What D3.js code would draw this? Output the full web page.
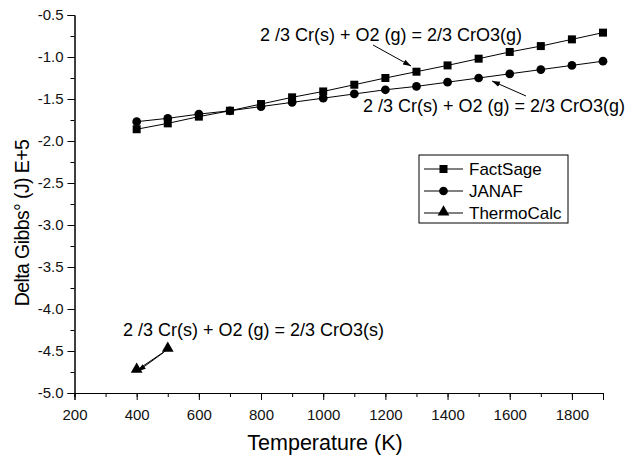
<!doctype html>
<html>
<head>
<meta charset="utf-8">
<script src="https://d3js.org/d3.v7.min.js"></script>
<style>
  body { margin: 0; background: #fff; }
  text { font-family: "Liberation Sans", Arial, sans-serif; }
</style>
</head>
<body>
<div id="chart"></div>
<script>
// data (values in units of 1E+5 J)
var temps = [400, 500, 600, 700, 800, 900, 1000, 1100, 1200, 1300, 1400, 1500, 1600, 1700, 1800, 1900];
var factSage = [-1.86, -1.79, -1.71, -1.64, -1.56, -1.48, -1.41, -1.33, -1.25, -1.175, -1.10, -1.02, -0.94, -0.87, -0.79, -0.71];
var janaf = [-1.77, -1.73, -1.68, -1.64, -1.59, -1.54, -1.49, -1.44, -1.39, -1.35, -1.30, -1.25, -1.20, -1.15, -1.10, -1.05];
var thermoTemps = [400, 500];
var thermoCalc = [-4.73, -4.48];
var xTicks = [200, 400, 600, 800, 1000, 1200, 1400, 1600, 1800];
var yTicks = [-5.0, -4.5, -4.0, -3.5, -3.0, -2.5, -2.0, -1.5, -1.0, -0.5];
var legendNames = ["FactSage", "JANAF", "ThermoCalc"];
var reactionGas = "2 /3 Cr(s) + O2 (g) = 2/3 CrO3(g)";
var reactionSolid = "2 /3 Cr(s) + O2 (g) = 2/3 CrO3(s)";

var width = 636, height = 457;
var svg = d3.select("#chart").append("svg")
  .attr("width", width).attr("height", height);

var x = d3.scaleLinear().domain([200, 1900]).range([74.5, 603]);
var y = d3.scaleLinear().domain([-5.0, -0.5]).range([393, 15]);

svg.append("defs").append("marker")
  .attr("id", "arrow")
  .attr("viewBox", "0 0 10 10")
  .attr("refX", 10).attr("refY", 5)
  .attr("markerWidth", 8).attr("markerHeight", 8)
  .attr("markerUnits", "userSpaceOnUse")
  .attr("orient", "auto")
  .append("path").attr("d", "M0,1.5 L10,5 L0,8.5 Z").attr("fill", "#000");

// plain hyphen minus like the original plot
var yFmt = function(d) { return d3.format(".1f")(d).replace("\u2212", "-"); };

// axes
var xAxis = svg.append("g").attr("transform", "translate(0,393)");
xAxis.call(d3.axisBottom(x).tickValues(d3.range(200, 1901, 100)).tickSize(4).tickFormat(""));
xAxis.append("g").call(d3.axisBottom(x).tickValues(xTicks).tickSize(7).tickFormat(d3.format("d")));
xAxis.selectAll("text").attr("font-size", 15).attr("fill", "#111").attr("dy", "1.15em")
  .style("font-family", "Liberation Sans, Arial, sans-serif");

var yAxis = svg.append("g").attr("transform", "translate(74.5,0)");
yAxis.call(d3.axisLeft(y).tickValues(d3.range(-5.0, -0.49, 0.25)).tickSize(4).tickFormat(""));
yAxis.append("g").call(d3.axisLeft(y).tickValues(yTicks).tickSize(7).tickFormat(yFmt));
yAxis.selectAll("text").attr("font-size", 15).attr("fill", "#111").attr("x", -11)
  .style("font-family", "Liberation Sans, Arial, sans-serif");
svg.selectAll(".domain").attr("stroke", "#000");
svg.selectAll(".tick line").attr("stroke", "#000");

svg.append("text").attr("x", 325).attr("y", 450).attr("text-anchor", "middle")
  .attr("font-size", 21.5).text("Temperature (K)");
svg.append("text").attr("transform", "translate(29,223) rotate(-90)")
  .attr("text-anchor", "middle").attr("font-size", 19.5).attr("letter-spacing", -0.6)
  .text("Delta Gibbs\u00b0 (J) E+5");

// series
var line = d3.line().x(function(d) { return x(d[0]); }).y(function(d) { return y(d[1]); });
var fsData = d3.zip(temps, factSage);
var jaData = d3.zip(temps, janaf);
var tcData = d3.zip(thermoTemps, thermoCalc);

svg.append("path").datum(fsData).attr("d", line).attr("fill", "none").attr("stroke", "#000");
svg.append("path").datum(jaData).attr("d", line).attr("fill", "none").attr("stroke", "#000");
svg.append("path").datum(tcData).attr("d", line).attr("fill", "none").attr("stroke", "#000");

var sq = d3.symbol().type(d3.symbolSquare).size(64);
var ci = d3.symbol().type(d3.symbolCircle).size(60);
var tr = d3.symbol().type(d3.symbolTriangle).size(60);

svg.selectAll(".fs").data(fsData).enter().append("path")
  .attr("d", sq).attr("transform", function(d) { return "translate(" + x(d[0]) + "," + y(d[1]) + ")"; });
svg.selectAll(".ja").data(jaData).enter().append("path")
  .attr("d", ci).attr("transform", function(d) { return "translate(" + x(d[0]) + "," + y(d[1]) + ")"; });
svg.selectAll(".tc").data(tcData).enter().append("path")
  .attr("d", tr).attr("transform", function(d) { return "translate(" + x(d[0]) + "," + (y(d[1]) - 1) + ")"; });

// annotations
svg.append("text").attr("x", 260).attr("y", 41).attr("font-size", 18).text(reactionGas);
svg.append("line").attr("x1", 373).attr("y1", 45).attr("x2", 411).attr("y2", 66)
  .attr("stroke", "#000").attr("marker-end", "url(#arrow)");
svg.append("text").attr("x", 363).attr("y", 112).attr("font-size", 18).text(reactionGas);
svg.append("line").attr("x1", 526).attr("y1", 96).attr("x2", 492).attr("y2", 81)
  .attr("stroke", "#000").attr("marker-end", "url(#arrow)");
svg.append("text").attr("x", 123).attr("y", 336).attr("font-size", 18).text(reactionSolid);
svg.append("line").attr("x1", x(500) - 4).attr("y1", y(thermoCalc[1]) + 3)
  .attr("x2", x(400) + 1).attr("y2", y(thermoCalc[0]) + 1)
  .attr("stroke", "#000").attr("marker-end", "url(#arrow)");

// legend
var lg = svg.append("g").attr("transform", "translate(419,155)");
lg.append("rect").attr("width", 149).attr("height", 68).attr("fill", "#fff").attr("stroke", "#000");
var symbols = [sq, ci, tr];
legendNames.forEach(function(name, i) {
  var cy = 14 + i * 22;
  lg.append("line").attr("x1", 5).attr("x2", 44).attr("y1", cy).attr("y2", cy).attr("stroke", "#000");
  lg.append("path").attr("d", symbols[i]).attr("transform", "translate(24.5," + (i == 2 ? cy - 1 : cy) + ")");
  lg.append("text").attr("x", 50).attr("y", cy + 6).attr("font-size", 17).text(name);
});
</script>
</body>
</html>
